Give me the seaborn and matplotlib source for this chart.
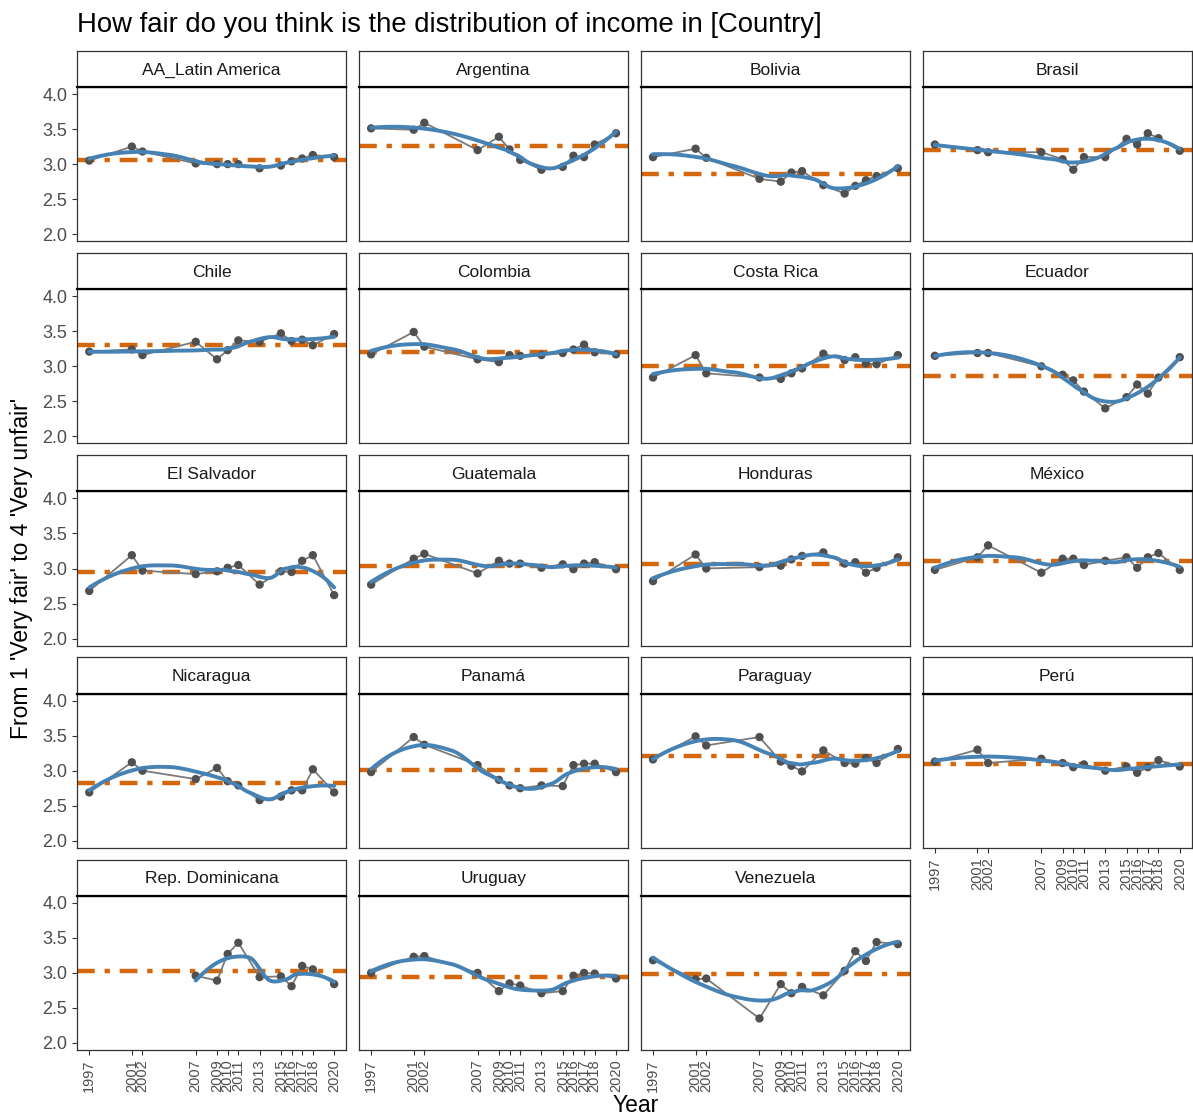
import numpy as np
import pandas as pd
import seaborn as sns
import matplotlib.pyplot as plt

# survey years (x axis)
years = [1997, 2001, 2002, 2007, 2009, 2010, 2011, 2013, 2015, 2016, 2017, 2018, 2020]

countries = ['AA_Latin America', 'Argentina', 'Bolivia', 'Brasil', 'Chile', 'Colombia',
             'Costa Rica', 'Ecuador', 'El Salvador', 'Guatemala', 'Honduras', 'México',
             'Nicaragua', 'Panamá', 'Paraguay', 'Perú', 'Rep. Dominicana', 'Uruguay',
             'Venezuela']

# mean answer per year
latam = [3.05, 3.25, 3.18, 3.01, 3.00, 3.00, 3.00, 2.94, 2.98, 3.04, 3.08, 3.13, 3.10]
argentina = [3.51, 3.49, 3.59, 3.20, 3.39, 3.21, 3.06, 2.92, 2.96, 3.12, 3.10, 3.28, 3.44]
bolivia = [3.10, 3.22, 3.09, 2.79, 2.75, 2.88, 2.90, 2.70, 2.58, 2.69, 2.77, 2.83, 2.94]
brasil = [3.28, 3.20, 3.17, 3.17, 3.07, 2.92, 3.10, 3.10, 3.36, 3.28, 3.44, 3.37, 3.19]
chile = [3.21, 3.24, 3.16, 3.35, 3.10, 3.23, 3.37, 3.35, 3.47, 3.36, 3.38, 3.30, 3.46]
colombia = [3.17, 3.49, 3.28, 3.10, 3.06, 3.16, 3.15, 3.16, 3.19, 3.24, 3.31, 3.20, 3.17]
costa_rica = [2.84, 3.16, 2.90, 2.84, 2.82, 2.90, 2.97, 3.18, 3.09, 3.13, 3.04, 3.03, 3.16]
ecuador = [3.15, 3.19, 3.19, 3.00, 2.88, 2.80, 2.64, 2.40, 2.56, 2.74, 2.61, 2.84, 3.13]
el_salvador = [2.68, 3.19, 2.97, 2.92, 2.96, 3.01, 3.05, 2.77, 2.96, 2.95, 3.11, 3.19, 2.62]
guatemala = [2.77, 3.14, 3.21, 2.93, 3.11, 3.07, 3.07, 3.01, 3.06, 2.99, 3.07, 3.09, 2.99]
honduras = [2.82, 3.20, 3.00, 3.02, 3.04, 3.13, 3.18, 3.23, 3.07, 3.09, 2.94, 3.01, 3.16]
mexico = [2.98, 3.16, 3.33, 2.94, 3.14, 3.14, 3.05, 3.11, 3.16, 3.01, 3.16, 3.22, 2.98]
nicaragua = [2.69, 3.12, 3.00, 2.88, 3.04, 2.85, 2.79, 2.58, 2.63, 2.72, 2.72, 3.02, 2.69]
panama = [2.98, 3.48, 3.37, 3.08, 2.87, 2.79, 2.75, 2.79, 2.78, 3.08, 3.10, 3.10, 2.98]
paraguay = [3.16, 3.49, 3.36, 3.48, 3.13, 3.07, 2.99, 3.29, 3.11, 3.10, 3.18, 3.11, 3.31]
peru = [3.13, 3.30, 3.11, 3.17, 3.11, 3.05, 3.09, 3.00, 3.06, 2.97, 3.05, 3.15, 3.06]
rep_dominicana = [None, None, None, 2.96, 2.89, 3.27, 3.43, 2.94, 2.95, 2.81, 3.10, 3.05, 2.84]
uruguay = [3.00, 3.23, 3.24, 3.00, 2.74, 2.85, 2.82, 2.71, 2.74, 2.96, 3.00, 2.99, 2.92]
venezuela = [3.18, 2.91, 2.92, 2.35, 2.84, 2.71, 2.80, 2.68, 3.03, 3.31, 3.17, 3.44, 3.41]

series = [latam, argentina, bolivia, brasil, chile, colombia, costa_rica, ecuador,
          el_salvador, guatemala, honduras, mexico, nicaragua, panama, paraguay, peru,
          rep_dominicana, uruguay, venezuela]

rows = []
for name, vals in zip(countries, series):
    for yr, v in zip(years, vals):
        if v is not None:
            rows.append({'country': name, 'year': yr, 'value': v})
df = pd.DataFrame(rows)


def local_fit(x, y, x0, q):
    # weighted local quadratic at x0, returns value and slope
    d = np.abs(x - x0)
    h = np.sort(d)[q - 1] * 1.0001
    w = np.clip(1 - (d / h) ** 3, 0, None) ** 3
    c = np.polyfit(x - x0, y, 2, w=np.sqrt(w))
    return c[2], c[1]


def loess(x, y, xs, span=0.75):
    # R-style loess: direct fits at kd-tree vertices, cubic Hermite in between
    x = np.asarray(x, float)
    y = np.asarray(y, float)
    n = len(x)
    q = int(np.floor(n * span))
    fc = int(np.floor(n * span * 0.2))
    xsort = np.sort(x)
    verts = {xsort[0], xsort[-1]}

    def split(pts):
        if len(pts) <= fc:
            return
        m = (len(pts) + 1) // 2 - 1
        v = (pts[m] + pts[m + 1]) / 2
        verts.add(v)
        split(pts[:m + 1])
        split(pts[m + 1:])

    split(xsort)
    vx = np.array(sorted(verts))
    fits = np.array([local_fit(x, y, v, q) for v in vx])
    out = []
    for x0 in xs:
        j = min(max(np.searchsorted(vx, x0) - 1, 0), len(vx) - 2)
        x1, x2 = vx[j], vx[j + 1]
        hh = x2 - x1
        t = (x0 - x1) / hh
        f1, d1 = fits[j]
        f2, d2 = fits[j + 1]
        h00 = 2 * t ** 3 - 3 * t ** 2 + 1
        h10 = t ** 3 - 2 * t ** 2 + t
        h01 = -2 * t ** 3 + 3 * t ** 2
        h11 = t ** 3 - t ** 2
        out.append(h00 * f1 + h10 * hh * d1 + h01 * f2 + h11 * hh * d2)
    return np.array(out)


sns.set_theme(style='white')
plt.rcParams['font.family'] = ['Liberation Sans', 'DejaVu Sans']

g = sns.FacetGrid(df, col='country', col_order=countries, col_wrap=4,
                  height=2, aspect=1.75, sharex=True, sharey=True, despine=False)
fig = g.figure
fig.set_size_inches(11.93, 11.17)

n_cols = 4
n = len(countries)
for i, name in enumerate(countries):
    ax = g.axes_dict[name]
    sub = df[df['country'] == name]
    ax.axhline(sub['value'].mean(), color='#d4660c', lw=3.2,
               linestyle=(0, (4.0, 2.2, 1.2, 2.2)), zorder=1)
    sns.lineplot(data=sub, x='year', y='value', ax=ax, color='#7a7a7a', lw=1.3, zorder=2)
    sns.scatterplot(data=sub, x='year', y='value', ax=ax, color='#505050', s=36,
                    edgecolor='none', zorder=3)
    xs = np.linspace(sub['year'].min(), sub['year'].max(), 80)
    sns.lineplot(x=xs, y=loess(sub['year'], sub['value'], xs), ax=ax,
                 color='#4682b4', lw=2.8, zorder=4)

    ax.set_xlim(1995.85, 2021.15)
    ax.set_ylim(1.9, 4.1)
    ax.set_xticks(years)
    ax.set_yticks([2.0, 2.5, 3.0, 3.5, 4.0])
    ax.set_xlabel('')
    ax.set_ylabel('')
    ax.set_title('')
    for s in ax.spines.values():
        s.set_color('#333333')
        s.set_linewidth(0.9)
    ax.tick_params(axis='both', which='both', length=3.5, width=0.8, color='#333333',
                   labelcolor='#4d4d4d')

    col = i % n_cols
    below = i + n_cols < n
    if not below:
        ax.tick_params(axis='x', labelbottom=True, bottom=True)
        ax.set_xticklabels([str(y) for y in years], rotation=90, fontsize=10.5)
    else:
        ax.tick_params(axis='x', labelbottom=False, bottom=False)
    if col == 0:
        ax.tick_params(axis='y', labelleft=True, left=True)
        ax.set_yticklabels(['2.0', '2.5', '3.0', '3.5', '4.0'], fontsize=13)
    else:
        ax.tick_params(axis='y', labelleft=False, left=False)

    # facet strip on top of the panel
    strip = ax.inset_axes([0, 1.0, 1, 0.234])
    strip.set_xticks([])
    strip.set_yticks([])
    strip.set_facecolor('white')
    for s in strip.spines.values():
        s.set_color('#333333')
        s.set_linewidth(0.9)
    strip.spines['bottom'].set_color('black')
    strip.spines['bottom'].set_linewidth(1.6)
    strip.text(0.5, 0.47, name, transform=strip.transAxes, ha='center', va='center',
               fontsize=12.5, color='#1a1a1a')

fig.subplots_adjust(left=77 / 1193, right=1192 / 1193, top=1 - 87 / 1117,
                    bottom=1 - 1050 / 1117, wspace=0.0464, hspace=0.311)

fig.text(77 / 1193, 1 - 25 / 1117, 'How fair do you think is the distribution of income in [Country]',
         fontsize=19.8, ha='left', va='center', color='black')
fig.text(22 / 1193, 1 - 568 / 1117, "From 1 'Very fair' to 4 'Very unfair'",
         fontsize=16.5, rotation=90, ha='center', va='center', color='black')
fig.text(636 / 1193, 1 - 1105 / 1117, 'Year', fontsize=16.5, ha='center', va='center',
         color='black')

fig.savefig('out.png', dpi=100)
